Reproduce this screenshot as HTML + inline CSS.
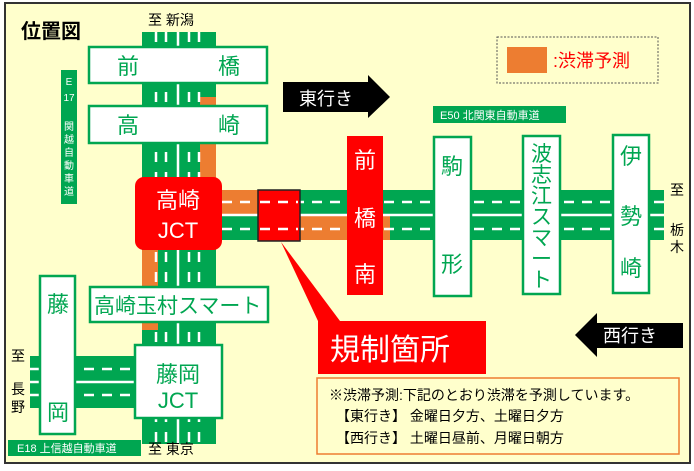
<!DOCTYPE html>
<html><head><meta charset="utf-8"><style>
body{margin:0;width:694px;height:466px;overflow:hidden;background:#fff}
svg text{font-family:"Liberation Sans","Noto Sans CJK JP",sans-serif}
</style></head><body>
<svg width="694" height="466" viewBox="0 0 694 466" xmlns="http://www.w3.org/2000/svg">
<rect x="5" y="3" width="685" height="460" fill="#ffffcc" stroke="#333" stroke-width="2"/>
<text x="21" y="38" font-size="20" font-weight="bold" fill="#000">位置図</text>
<!-- vertical road -->
<rect x="142" y="32" width="74" height="412" fill="#00a651"/>
<rect x="200" y="97" width="16" height="82" fill="#ed7d31"/>
<rect x="142" y="250" width="16" height="80" fill="#ed7d31"/>
<g stroke="#fff" stroke-width="2.5" stroke-dasharray="10 10">
<line x1="156" y1="32" x2="156" y2="444"/><line x1="166" y1="32" x2="166" y2="444"/>
<line x1="189" y1="32" x2="189" y2="444"/><line x1="199" y1="32" x2="199" y2="444"/>
</g>
<line x1="178" y1="32" x2="178" y2="444" stroke="#fff" stroke-width="2.5"/>
<!-- E50 road -->
<rect x="222" y="190" width="442" height="50" fill="#00a651"/>
<rect x="222" y="190" width="36" height="24" fill="#ed7d31"/>
<rect x="300" y="216" width="90" height="24" fill="#ed7d31"/>
<g stroke="#fff" stroke-width="2.5" stroke-dasharray="10 8">
<line x1="222" y1="202" x2="664" y2="202"/><line x1="222" y1="229" x2="664" y2="229"/>
</g>
<line x1="222" y1="215" x2="664" y2="215" stroke="#fff" stroke-width="2.5"/>
<rect x="258" y="190" width="42" height="51" fill="#ff0000" stroke="#222" stroke-width="1.5"/>
<g stroke="#fff" stroke-width="2.5" stroke-dasharray="10 8"><line x1="260" y1="202" x2="298" y2="202"/><line x1="260" y1="229" x2="298" y2="229"/></g>
<!-- left road -->
<rect x="30" y="356" width="110" height="52" fill="#00a651"/>
<g stroke="#fff" stroke-width="2.5" stroke-dasharray="10 8">
<line x1="30" y1="369" x2="140" y2="369"/><line x1="30" y1="395" x2="140" y2="395"/></g>
<line x1="30" y1="382" x2="140" y2="382" stroke="#fff" stroke-width="2.5"/>
<!-- boxes -->
<g fill="#fff" stroke="#00a651" stroke-width="2.5">
<rect x="89" y="47" width="178" height="36"/>
<rect x="89" y="106" width="178" height="37"/>
<rect x="90" y="287" width="178" height="35"/>
<rect x="40" y="276" width="35" height="158"/>
<rect x="135" y="345" width="87" height="73"/>
<rect x="434" y="137" width="37" height="159"/>
<rect x="523" y="136" width="37" height="158"/>
<rect x="613" y="135" width="36" height="158"/>
</g>
<rect x="135" y="177" width="87" height="73" rx="9" fill="#ff0000"/>
<rect x="347" y="136" width="36" height="159" fill="#ff0000"/>
<g fill="#00a651" font-size="22">
<text x="117" y="74">前</text><text x="218" y="74">橋</text>
<text x="117" y="133">高</text><text x="218" y="133">崎</text>
<text x="94" y="313" font-size="21">高崎玉村スマート</text>
<text x="47" y="312">藤</text><text x="47" y="420">岡</text>
<text x="178" y="382" text-anchor="middle">藤岡</text>
<text x="178" y="408" text-anchor="middle">JCT</text>
<text x="441" y="174">駒</text><text x="441" y="272">形</text>
<g font-size="21"><text x="531" y="161">波</text><text x="531" y="182">志</text><text x="531" y="203">江</text><text x="531" y="224">ス</text><text x="531" y="245">マ</text><text x="531" y="266">ー</text><text x="531" y="287">ト</text></g>
<text x="620" y="164">伊</text><text x="620" y="224">勢</text><text x="620" y="276">崎</text>
</g>
<g fill="#fff" font-size="22">
<text x="178" y="208" text-anchor="middle">高崎</text>
<text x="178" y="238" text-anchor="middle">JCT</text>
<text x="354" y="168">前</text><text x="354" y="226">橋</text><text x="354" y="282">南</text>
</g>
<!-- labels -->
<rect x="61" y="70" width="16" height="134" fill="#00a651"/>
<g fill="#fff" font-size="10" text-anchor="middle">
<text x="69" y="85">E</text><text x="69" y="101">17</text>
<text x="69" y="130">関</text><text x="69" y="143">越</text><text x="69" y="156">自</text><text x="69" y="169">動</text><text x="69" y="182">車</text><text x="69" y="195">道</text>
</g>
<rect x="433" y="106" width="133" height="17" fill="#00a651"/>
<text x="440" y="119" font-size="11" fill="#fff">E50  北関東自動車道</text>
<rect x="8" y="440" width="133" height="16" fill="#00a651"/>
<text x="17" y="452" font-size="11" fill="#fff">E18  上信越自動車道</text>
<g font-size="14" fill="#000">
<text x="148" y="25">至  新潟</text>
<text x="148" y="454">至  東京</text>
<text x="11" y="361">至</text><text x="11" y="394">長</text><text x="11" y="412">野</text>
<text x="670" y="195">至</text><text x="670" y="235">栃</text><text x="670" y="252">木</text>
</g>
<!-- arrows -->
<polygon points="283,82 368,82 368,75 390,97 368,118 368,112 283,112" fill="#000"/>
<text x="299" y="105" font-size="18" fill="#fff">東行き</text>
<polygon points="683,323 597,323 597,313 575,335 597,357 597,348 683,348" fill="#000"/>
<text x="603" y="342" font-size="18" fill="#fff">西行き</text>
<!-- legend -->
<rect x="497" y="37" width="161" height="46" fill="none" stroke="#555" stroke-dasharray="2 1.5"/>
<rect x="507" y="47" width="40" height="26" fill="#ed7d31"/>
<text x="553" y="67" font-size="18" fill="#ff0000">:渋滞予測</text>
<!-- callout -->
<polygon points="281,242 340,321 318,321" fill="#ff0000"/>
<rect x="318" y="321" width="168" height="53" fill="#ff0000"/>
<text x="330" y="360" font-size="30" fill="#fff">規制箇所</text>
<rect x="317" y="378" width="362" height="76" fill="#ffffcc" stroke="#ed7d31" stroke-width="1.5"/>
<g font-size="14" fill="#000">
<text x="329" y="400">※渋滞予測:下記のとおり渋滞を予測しています。</text>
<text x="336" y="421">【東行き】 金曜日夕方、土曜日夕方</text>
<text x="336" y="443">【西行き】 土曜日昼前、月曜日朝方</text>
</g>
</svg>
</body></html>
